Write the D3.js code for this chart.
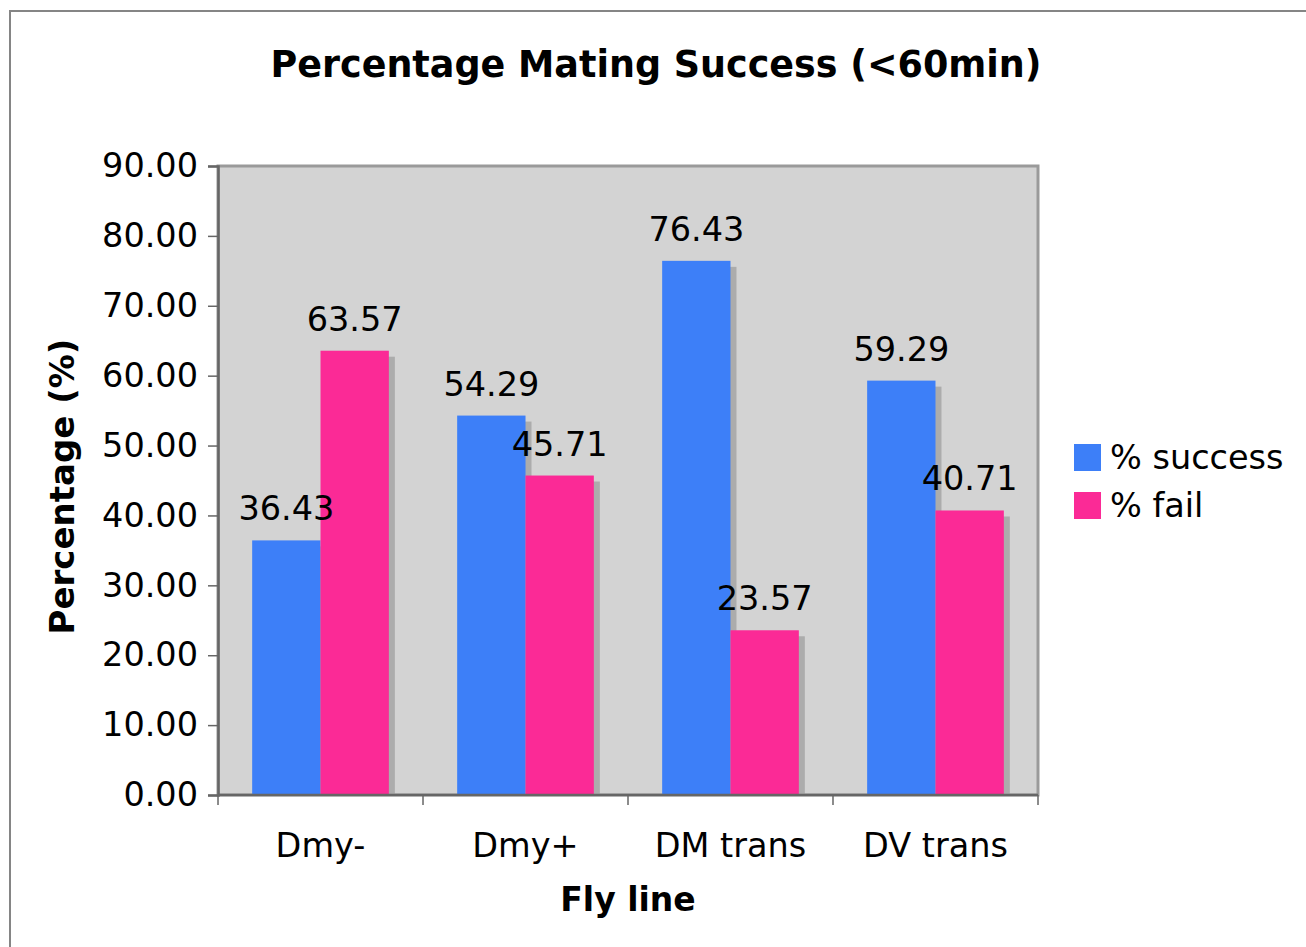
<!DOCTYPE html>
<html>
<head>
<meta charset="utf-8">
<script src="https://cdn.jsdelivr.net/npm/d3@7"></script>
<style>
  html, body { margin: 0; padding: 0; background: #fff; }
  svg { display: block; font-family: "DejaVu Sans", Verdana, sans-serif; }
</style>
</head>
<body>
<svg id="chart" width="1306" height="947"></svg>
<script>
// Fly lines and mating outcome percentages (<60 min)
const categories = ["Dmy-", "Dmy+", "DM trans", "DV trans"];
const seriesNames = ["% success", "% fail"];
const successValues = [36.43, 54.29, 76.43, 59.29];
const failValues = [63.57, 45.71, 23.57, 40.71];
const yTicks = [0, 10, 20, 30, 40, 50, 60, 70, 80, 90];
const seriesColors = ["#3d7ff8", "#fb2a96"];

const svg = d3.select("#chart");
const plot = { left: 218, top: 166, right: 1038, bottom: 795 };
const fs = 33.5;

// outer chart frame
svg.append("rect")
  .attr("x", 10).attr("y", 11)
  .attr("width", 1306).attr("height", 960)
  .attr("fill", "#fff").attr("stroke", "#858585").attr("stroke-width", 2);

const x0 = d3.scaleBand().domain(categories)
  .range([plot.left, plot.right]).paddingInner(0.3333).paddingOuter(0.1667);
const x1 = d3.scaleBand().domain(seriesNames).range([0, x0.bandwidth()]);
const y = d3.scaleLinear().domain([0, 90]).range([plot.bottom, plot.top]);

// plot area background
svg.append("rect")
  .attr("x", plot.left).attr("y", plot.top)
  .attr("width", plot.right - plot.left).attr("height", plot.bottom - plot.top)
  .attr("fill", "#d3d3d3").attr("stroke", "#9a9a9a").attr("stroke-width", 3);

const rows = categories.map((c, i) => ({
  cat: c,
  vals: [
    { name: seriesNames[0], v: successValues[i], color: seriesColors[0] },
    { name: seriesNames[1], v: failValues[i], color: seriesColors[1] }
  ]
}));

const groups = svg.append("g").selectAll("g").data(rows).join("g")
  .attr("transform", d => `translate(${x0(d.cat)},0)`);

// drop shadows
const sh = 6;
groups.selectAll("rect.shadow").data(d => d.vals).join("rect")
  .attr("class", "shadow")
  .attr("x", d => x1(d.name) + sh)
  .attr("y", d => y(d.v) + sh)
  .attr("width", x1.bandwidth())
  .attr("height", d => Math.max(0, plot.bottom - 1 - (y(d.v) + sh)))
  .attr("fill", "#acacac");

groups.selectAll("rect.bar").data(d => d.vals).join("rect")
  .attr("class", "bar")
  .attr("x", d => x1(d.name))
  .attr("y", d => y(d.v))
  .attr("width", x1.bandwidth())
  .attr("height", d => plot.bottom - y(d.v))
  .attr("fill", d => d.color);

// y axis
const yAxis = svg.append("g")
  .attr("transform", `translate(${plot.left},0)`)
  .call(d3.axisLeft(y).tickValues(yTicks).tickFormat(d3.format(".2f")).tickSize(10).tickPadding(10));
yAxis.select(".domain").attr("stroke", "#666").attr("stroke-width", 2.5);
yAxis.selectAll(".tick line").attr("stroke", "#666").attr("stroke-width", 1.5);
yAxis.selectAll(".tick text")
  .attr("font-size", fs).attr("fill", "#000")
  .attr("font-family", "DejaVu Sans, sans-serif");

// x axis with ticks between categories
const xAxisG = svg.append("g").attr("transform", `translate(0,${plot.bottom})`);
xAxisG.append("line")
  .attr("x1", plot.left).attr("x2", plot.right)
  .attr("stroke", "#666").attr("stroke-width", 2.5);
const edges = categories.map(c => x0(c) - x0.step() * x0.paddingInner() / 2);
edges.push(plot.right);
xAxisG.selectAll("line.tk").data(edges).join("line")
  .attr("class", "tk")
  .attr("x1", d => d).attr("x2", d => d)
  .attr("y1", 0).attr("y2", 10)
  .attr("stroke", "#666").attr("stroke-width", 1.5);
xAxisG.selectAll("text").data(categories).join("text")
  .attr("x", d => x0(d) + x0.bandwidth() / 2)
  .attr("y", 62)
  .attr("text-anchor", "middle")
  .attr("font-size", fs)
  .text(d => d);

// value labels
groups.selectAll("text.val").data(d => d.vals).join("text")
  .attr("class", "val")
  .attr("x", d => x1(d.name) + x1.bandwidth() / 2)
  .attr("y", d => y(d.v) - 20)
  .attr("text-anchor", "middle")
  .attr("font-size", fs)
  .text(d => d.v.toFixed(2));

// title and axis titles
svg.append("text")
  .attr("x", 656).attr("y", 77)
  .attr("text-anchor", "middle")
  .attr("font-size", 36.5).attr("font-weight", "bold")
  .text("Percentage Mating Success (<60min)");

svg.append("text")
  .attr("x", 628).attr("y", 911)
  .attr("text-anchor", "middle")
  .attr("font-size", 33).attr("font-weight", "bold")
  .text("Fly line");

svg.append("text")
  .attr("transform", `translate(74,${(plot.top + plot.bottom) / 2 + 6}) rotate(-90)`)
  .attr("text-anchor", "middle")
  .attr("font-size", 34).attr("font-weight", "bold")
  .text("Percentage (%)");

// legend
const legend = svg.append("g").attr("transform", "translate(1074,444)");
const li = legend.selectAll("g").data(seriesNames).join("g")
  .attr("transform", (d, i) => `translate(0,${i * 48})`);
li.append("rect")
  .attr("width", 27).attr("height", 27)
  .attr("fill", (d, i) => seriesColors[i]);
li.append("text")
  .attr("x", 36).attr("y", 25)
  .attr("font-size", fs)
  .text(d => d);
</script>
</body>
</html>
